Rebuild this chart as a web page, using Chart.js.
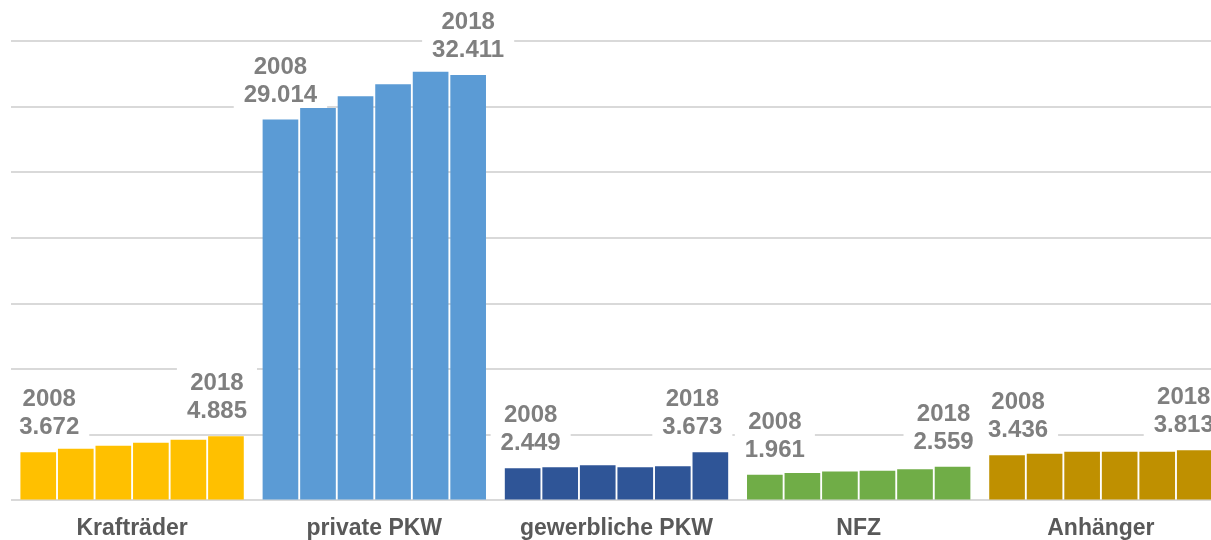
<!DOCTYPE html>
<html>
<head>
<meta charset="utf-8">
<script src="https://cdn.jsdelivr.net/npm/chart.js@4/dist/chart.umd.min.js"></script>
<style>
  html, body { margin: 0; padding: 0; background: #fff; overflow: hidden; }
  #wrap { width: 1222px; height: 556px; position: relative; }
</style>
</head>
<body>
<div id="wrap"><canvas id="c"></canvas></div>
<script>
// categories and years
const categories = ['Krafträder', 'private PKW', 'gewerbliche PKW', 'NFZ', 'Anhänger'];
const years = ['2008', '2010', '2012', '2014', '2016', '2018'];

// values per category, one per year (2008 and 2018 labelled)
const kraftraeder = [3672, 3940, 4170, 4400, 4630, 4885];
const privatePkw = [29014, 29900, 30800, 31700, 32650, 32411];
const gewerblichePkw = [2449, 2525, 2680, 2525, 2600, 3673];
const nfz = [1961, 2090, 2200, 2250, 2380, 2559];
const anhaenger = [3436, 3560, 3700, 3700, 3700, 3813];

const categoryColors = ['#FFC000', '#5B9BD5', '#2F5597', '#70AD47', '#BF9000'];

const series = [kraftraeder, privatePkw, gewerblichePkw, nfz, anhaenger];

// one dataset per year, so each category gets a group of 6 bars
const datasets = years.map((y, i) => ({
  label: y,
  data: series.map(s => s[i]),
  backgroundColor: categoryColors,
  borderWidth: 0,
  barPercentage: 0.95,
  categoryPercentage: 0.93
}));

const FONT = '"Liberation Sans", Arial, sans-serif';

function fmt(v) {
  // German thousands style: 3672 -> 3.672
  const s = String(v);
  return s.length > 3 ? s.slice(0, s.length - 3) + '.' + s.slice(s.length - 3) : s;
}

// horizontal nudge of the labels, as placed by hand in the original
const nudgeFirst = [11, 0, 8, 10, 11];
const nudgeLast = [-9, 0, -18, -9, -11];

// draw "2008 / value" and "2018 / value" labels with white boxes,
// before the bars so boxes only hide the grid lines
const yearLabels = {
  id: 'yearLabels',
  beforeDatasetsDraw(chart) {
    const ctx = chart.ctx;
    ctx.save();
    ctx.font = 'bold 24px ' + FONT;
    ctx.textAlign = 'center';
    ctx.textBaseline = 'alphabetic';
    const items = [];
    [0, years.length - 1].forEach(di => {
      const meta = chart.getDatasetMeta(di);
      meta.data.forEach((bar, ci) => {
        const nudge = di === 0 ? nudgeFirst[ci] : nudgeLast[ci];
        items.push({ x: bar.x + nudge, base: bar.y - 18, year: years[di], val: fmt(series[ci][di]) });
      });
    });
    items.forEach(it => {
      const w = Math.max(ctx.measureText(it.val).width, ctx.measureText(it.year).width) + 20;
      ctx.fillStyle = '#ffffff';
      ctx.fillRect(it.x - w / 2, it.base - 52, w, 61);
    });
    ctx.fillStyle = '#7f7f7f';
    items.forEach(it => {
      ctx.fillText(it.year, it.x, it.base - 28);
      ctx.fillText(it.val, it.x, it.base);
    });
    ctx.restore();
  }
};

new Chart(document.getElementById('c'), {
  type: 'bar',
  data: { labels: categories, datasets: datasets },
  plugins: [yearLabels],
  options: {
    responsive: true,
    maintainAspectRatio: false,
    animation: false,
    layout: { padding: { left: 11, right: 0, top: 41, bottom: 0 } },
    plugins: { legend: { display: false }, tooltip: { enabled: false } },
    scales: {
      x: {
        grid: { display: false, drawTicks: false },
        border: { display: false },
        ticks: {
          padding: 14,
          color: '#595959',
          font: { family: FONT, size: 23, weight: 'bold' }
        }
      },
      y: {
        min: 0,
        max: 35000,
        ticks: { display: false, stepSize: 5000 },
        grid: { color: '#d9d9d9', lineWidth: 2, drawTicks: false },
        border: { display: false }
      }
    }
  }
});
</script>
</body>
</html>
